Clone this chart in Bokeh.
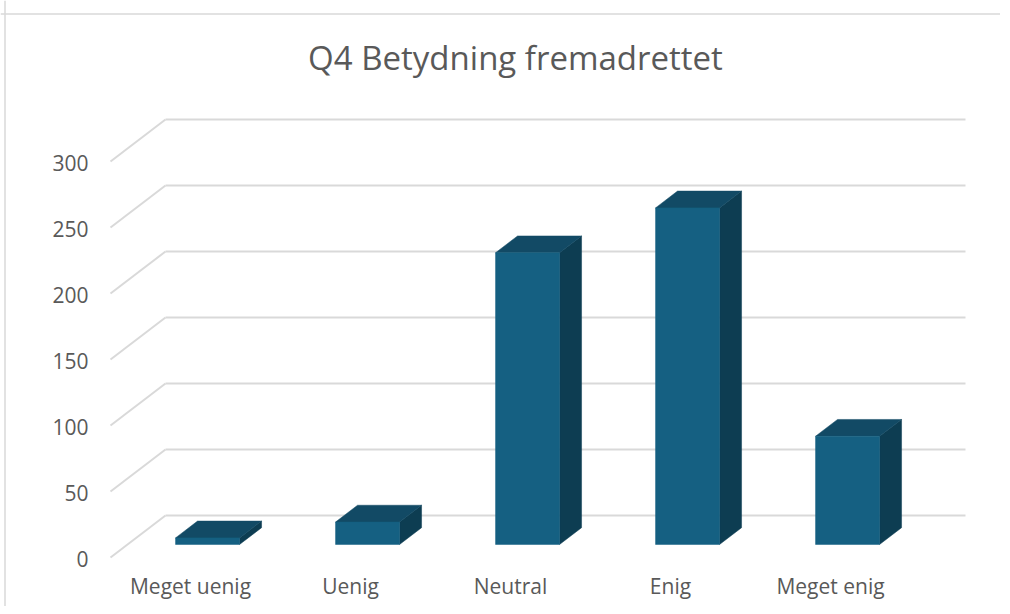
from bokeh.plotting import figure
from bokeh.models import Range1d, Span
from bokeh.core.properties import value
from bokeh.embed import file_html
from bokeh.resources import INLINE

# ---- data ----
categories = ["Meget uenig", "Uenig", "Neutral", "Enig", "Meget enig"]
counts = [5, 17, 221, 255, 82]
y_ticks = [0, 50, 100, 150, 200, 250, 300]
title_text = "Q4 Betydning fremadrettet"

# ---- layout constants (pixels) ----
W, H = 1000, 606
PX_PER_CAT = 160.0
PX_PER_VAL = 1.32
X_LEFT_PX = 110.0      # front-left wall corner, from canvas left
Y_ZERO_PX = 557.0      # front zero line, from canvas top
DEPTH_PX_X, DEPTH_PX_Y = 55.0, 42.0

DX = DEPTH_PX_X / PX_PER_CAT
DY = DEPTH_PX_Y / PX_PER_VAL
n = len(categories)
x0 = -0.5
x_start = x0 - X_LEFT_PX / PX_PER_CAT
x_end = x_start + W / PX_PER_CAT
y_start = -(H - Y_ZERO_PX) / PX_PER_VAL
y_end = y_start + H / PX_PER_VAL

p = figure(width=W, height=H, output_backend="svg", toolbar_location=None,
           x_range=Range1d(x_start, x_end), y_range=Range1d(y_start, y_end),
           min_border=0, tools="")
p.axis.visible = False
p.grid.visible = False
p.outline_line_color = None
p.background_fill_color = "white"
p.border_fill_color = "white"

# chart border (left & top visible)
p.add_layout(Span(location=x_start + 4.5 / PX_PER_CAT, dimension="height",
                  line_color="#d9d9d9", line_width=1.5))
p.add_layout(Span(location=y_end - 13.5 / PX_PER_VAL, dimension="width",
                  line_color="#d9d9d9", line_width=1.5))

grid_col = "#d9d9d9"
for v in y_ticks:
    p.line([x0, x0 + DX], [v, v + DY], line_color=grid_col, line_width=2)
    p.line([x0 + DX, x0 + n + DX], [v + DY, v + DY], line_color=grid_col, line_width=2)

# tick labels
p.text(x=[x0 - 22.0 / PX_PER_CAT] * len(y_ticks), y=[v - 1.0 / PX_PER_VAL for v in y_ticks],
       text=[str(v) for v in y_ticks], text_align="right", text_baseline="middle",
       text_font=value("Open Sans"), text_font_size="21px", text_color="#595959")

# category labels
p.text(x=list(range(n)), y=[-28.0 / PX_PER_VAL] * n, text=categories,
       text_align="center", text_baseline="middle",
       text_font=value("Open Sans"), text_font_size="21px", text_color="#595959")

# 3D bars
front_col, top_col, side_col = "#156082", "#124a65", "#0d3d52"
bw = 0.4
d_front, d_back = 0.31, 0.71
for i, c in enumerate(counts):
    fx, fy = d_front * DX, d_front * DY
    bx, by = d_back * DX, d_back * DY
    l, r = i - bw / 2, i + bw / 2
    # side face
    p.patch([r + fx, r + bx, r + bx, r + fx], [fy, by, c + by, c + fy],
            fill_color=side_col, line_color=side_col, line_width=0.5)
    # top face
    p.patch([l + fx, r + fx, r + bx, l + bx], [c + fy, c + fy, c + by, c + by],
            fill_color=top_col, line_color=top_col, line_width=0.5)
    # front face
    p.patch([l + fx, r + fx, r + fx, l + fx], [fy, fy, c + fy, c + fy],
            fill_color=front_col, line_color=front_col, line_width=0.5)

# title
p.text(x=[x_start + 515.0 / PX_PER_CAT], y=[y_end - 57.0 / PX_PER_VAL],
       text=[title_text], text_align="center", text_baseline="middle",
       text_font=value("Open Sans"), text_font_size="33px", text_color="#595959")

open("out.html", "w").write(file_html(p, INLINE))
